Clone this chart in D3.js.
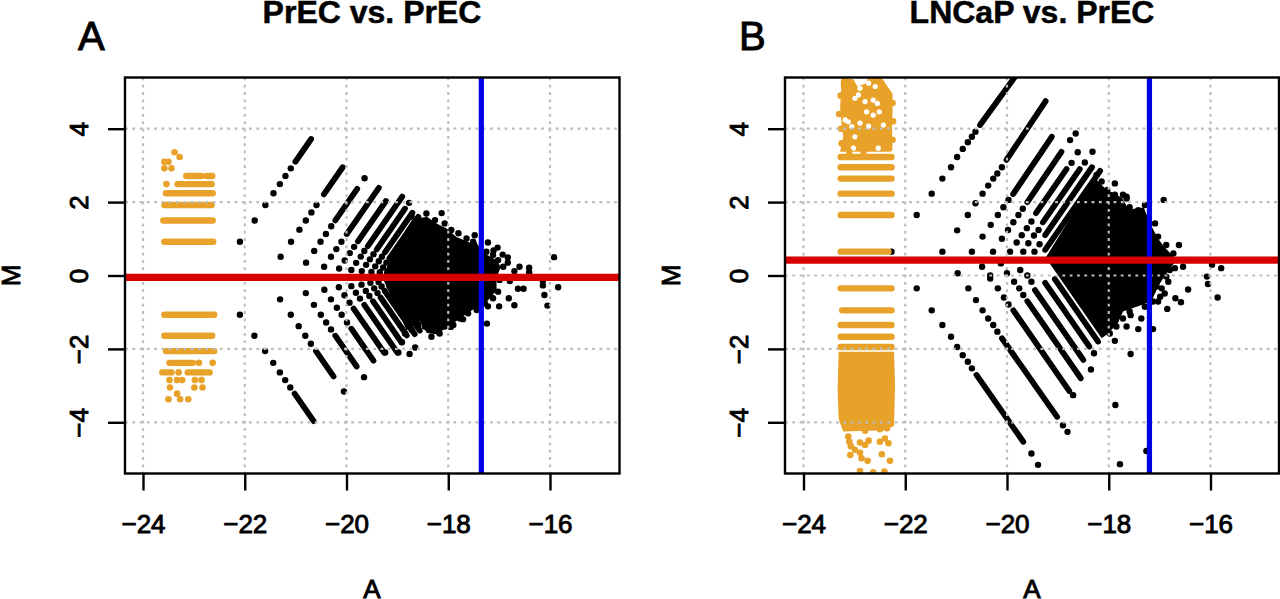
<!DOCTYPE html>
<html><head><meta charset="utf-8">
<script src="https://cdn.jsdelivr.net/npm/d3@7"></script>
<style>html,body{margin:0;padding:0;background:#fff;overflow:hidden}svg{display:block}text{font-family:"Liberation Sans",Arial,sans-serif;fill:#000}</style>
</head><body><svg id="c" width="1280" height="599"></svg>
<script>
const xTicks=[-24,-22,-20,-18,-16], yTicks=[-4,-2,0,2,4];
const titles=["PrEC vs. PrEC","LNCaP vs. PrEC"], letters=["A","B"];

// Panel A: [M, A start, A end] rows of low-count probes
const orangeRowsA=[[0.92,-23.58,-22.62],[1.5,-23.6,-22.63],[1.92,-23.58,-22.65],[2.24,-23.55,-22.63],[2.49,-23.32,-22.65],[2.71,-23.15,-22.86],[2.71,-22.76,-22.64],
[-1.07,-23.58,-22.6],[-1.64,-23.58,-22.64],[-2.06,-23.55,-22.6],[-2.38,-23.48,-23.02],[-2.64,-23.62,-23.44],[-2.64,-23.12,-22.89],[-2.64,-22.86,-22.69]];
const orangeDotsA=[[-23.38,3.36],[-23.28,3.23],[-23.58,3.10],[-23.5,3.10],[-23.58,2.92],[-23.44,2.92],[-23.54,2.49],[-22.9,-2.38],[-22.63,-2.38],[-23.3,-2.64],
[-23.48,-2.85],[-23.33,-2.85],[-23.23,-2.85],[-22.98,-2.85],[-22.85,-2.85],[-23.47,-3.05],[-22.99,-3.05],[-22.83,-3.05],[-23.33,-3.22],[-23.5,-3.37],[-23.27,-3.37],[-23.11,-3.37]];
// Panel A: dense runs along the diagonals [A0,M0,A1,M1]
const raysA=[[-21.005,3.1,-20.695,3.72],[-20.445,2.21,-20.075,2.95],[-20.22,1.5,-19.79,2.36],[-19.995,1.13,-19.365,2.39],[-19.775,.93,-19.225,2.03],[-19.58,.8,-18.905,2.15],[-19.405,.71,-18.85,1.82],[-19.245,.63,-18.705,1.71],[-19.155,.47,-18.59,1.6],[-19.085,.31,-18.49,1.5],
[-21.02,-3.22,-20.645,-3.97],[-20.6,-2.06,-20.255,-2.75],[-20.22,-1.64,-19.8,-2.48],[-19.905,-1.45,-19.47,-2.32],[-19.86,-.9,-19.26,-2.1],[-19.65,-.8,-19.0,-2.1],[-19.48,-.7,-18.92,-1.82],[-19.33,-.6,-18.815,-1.63],[-19.25,-.42,-18.66,-1.6],[-19.16,-.3,-18.56,-1.5]];
const blackDotsA=[[-22.095,.92],[-21.805,1.5],[-21.595,1.92],[-21.435,2.24],[-21.31,2.49],[-21.2,2.71],[-21.095,2.92],
[-21.295,.51],[-21.09,.92],[-20.925,1.25],[-20.8,1.5],[-20.69,1.72],[-20.59,1.92],
[-20.795,.35],[-20.635,.67],[-20.51,.92],[-20.405,1.13],[-20.3,1.34],[-19.645,2.65],
[-20.44,.24],[-20.305,.51],[-20.2,.72],[-20.1,.92],[-20.145,.19],[-20.035,.41],[-19.935,.61],[-19.85,.78],
[-19.905,.15],[-19.81,.345],[-19.72,.515],[-19.65,.667],[-19.7,.12],[-19.615,.29],[-19.54,.44],[-19.47,.58],[-18.77,1.98],
[-19.51,.1],[-19.435,.25],[-19.365,.39],[-19.305,.51],[-19.345,.09],[-19.28,.22],[-19.215,.35],[-19.2,.08],[-19.14,.2],
[-22.095,-1.07],[-21.81,-1.64],[-21.6,-2.06],[-21.44,-2.38],[-21.31,-2.64],[-21.205,-2.85],[-21.105,-3.05],
[-21.305,-.65],[-21.095,-1.07],[-20.94,-1.38],[-20.81,-1.64],[-20.7,-1.86],
[-20.8,-.48],[-20.64,-.8],[-20.505,-1.07],[-20.4,-1.28],[-20.305,-1.47],[-19.655,-2.77],[-20.05,-3.16],
[-20.435,-.39],[-20.305,-.65],[-20.19,-.88],[-20.095,-1.07],[-19.99,-1.28],[-20.15,-.32],[-20.04,-.54],[-19.94,-.74],
[-19.905,-.29],[-19.815,-.47],[-19.735,-.63],[-19.705,-.25],[-19.62,-.42],[-19.55,-.56],[-18.76,-2.14],
[-19.53,-.2],[-19.455,-.35],[-19.39,-.48],[-18.65,-1.96],[-19.37,-.18],[-19.31,-.3],
[-18.13,1.7],[-17.22,.9],[-17.03,.76],[-17.11,.68],[-16.93,.57],[-16.83,.49],[-16.83,.35],[-16.6,.24],[-16.41,.21],[-16.7,.12],[-16.41,.09],[-15.92,.5],
[-16.79,-.15],[-16.63,-.36],[-16.52,-.36],[-16.14,-.27],[-15.84,-.32],[-16.11,-.53],[-16.81,-.62],[-16.7,-.81],[-16.05,-.82],[-17,-.84],[-17.22,-.84],[-17.24,-1.31],[-17.71,-1.19],[-17.95,-1.4],[-16.14,-.14],[-18.98,-2.1],[-19.24,-2.1],[-18.91,-1.82],
[-18.72,1.6],[-18.59,1.56],[-18.43,1.69],[-18.26,1.51],[-18.07,1.42],[-17.94,1.24],[-17.8,1.15],[-17.64,1.01],[-17.48,1.1],[-17.51,.92],[-17.25,.65],[-17.12,.56],[-17.02,.42],[-16.92,.24],[-16.99,-.12],[-17.02,-.44],[-17.12,-.62],[-17.28,-.76],[-17.44,-.94],[-17.61,-1.03],[-17.77,-1.17],[-17.9,-1.35],[-18.07,-1.39],[-18.17,-1.58],[-18.33,-1.67],[-18.46,-1.39],[-18.59,-1.35],[-18.72,-1.48],[-18.85,-1.58]];
const blobA=[[-19.3,-.05],[-18.95,.98],[-18.72,1.5],[-18.42,1.6],[-18.23,1.42],[-18.03,1.28],[-17.84,1.05],[-17.58,.9],[-17.48,.98],[-17.38,.75],[-17.25,.57],[-17.03,.4],[-16.97,.22],[-17.05,-.05],[-17.05,-.41],[-17.22,-.68],[-17.32,-.8],[-17.58,-.98],[-17.9,-1.3],[-18.23,-1.6],[-18.42,-1.57],[-18.56,-1.25],[-18.82,-1.5],[-18.95,-1.08]];

// Panel B
const orangeRowsB=[[.65,-23.27,-22.33],[1.65,-23.27,-22.27],[2.23,-23.27,-22.27],[2.64,-23.27,-22.27],[2.95,-23.27,-22.27],[3.23,-23.27,-22.27],
[-.35,-23.27,-22.27],[-.95,-23.24,-22.27],[-1.35,-23.27,-22.27],[-1.67,-23.27,-22.27],[-1.95,-23.27,-22.27]];
const orangeUpperB=[[-23.26,5.06],[-23.27,5.28],[-23.18,5.37],[-23.02,5.35],[-22.94,5.15],[-22.77,5.24],[-22.74,5.37],[-22.53,5.4],[-22.43,5.33],[-22.35,5.15],[-22.25,4.96],[-22.25,4.42],[-22.26,4.06],[-22.25,3.42],[-22.29,3.37],[-23.28,3.37],[-23.22,3.78],[-23.26,4.24],[-23.28,4.6]];
const orangeLowerB=[[-23.31,-2.08],[-22.22,-2.08],[-22.2,-3],[-22.22,-4.1],[-22.4,-4.22],[-23.22,-4.25],[-23.31,-3.9],[-23.33,-3.1]];
const holesB=[[-22.79,4.74],[-22.63,4.78],[-22.55,4.69],[-22.51,4.46],[-22.63,4.37],[-22.76,4.46],[-22.92,4.92],[-22.99,4.83],[-22.89,5.1],[-22.72,5.24],[-22.59,5.15],[-23.12,4.19],[-23.18,4.24],[-23.05,4.06],[-22.89,4.15],[-22.72,4.07],[-22.99,3.78],[-22.43,4.1],[-23.02,3.47],[-22.53,3.47]];
const orangeDotsB=[[-23.12,-4.39],[-23.10,-4.53],[-23.07,-4.65],[-22.99,-4.75],[-22.89,-4.83],[-22.86,-4.98],[-23.08,-4.89],[-22.74,-5.05],[-22.46,-4.87],[-22.30,-5.05],[-22.89,-5.33],[-22.63,-5.36],[-22.41,-5.34],[-22.89,-4.55],[-22.72,-4.5],[-22.79,-4.62],[-22.50,-4.53],[-22.40,-4.44],[-22.33,-4.57],[-22.79,-4.23],[-22.50,-4.19],[-22.36,-4.16],
[-23.27,4.9],[-23.3,4.4],[-23.26,4],[-23.25,3.6],[-22.25,4.7],[-22.24,4.2],[-22.25,3.7],[-23.2,5.3],[-22.5,5.3],[-22.82,3.38],[-23.1,3.38]];
const raysB=[[-20.53,4.1,-19.84,5.42],[-20.01,3.15,-19.24,4.75],[-19.88,2.22,-19.12,3.78],[-19.6,2,-18.93,3.37],[-19.43,1.7,-18.83,2.9],[-19.295,1.45,-18.57,2.9],[-19.25,1.1,-18.33,2.95],[-19.25,.7,-18.17,2.85],
[-20.6,-2.71,-19.68,-4.53],[-20.1,-1.71,-19.015,-3.85],[-19.875,-.95,-18.775,-3.15],[-19.6,-.7,-18.55,-2.8],[-19.45,-.4,-18.5,-2.3],[-19.25,-.2,-18.38,-1.94],[-19.06,-.1,-18.21,-1.8]];
const blackDotsB=[[-22.27,.65],
[-21.775,1.65],[-21.48,2.23],[-21.27,2.64],[-21.10,2.95],[-20.98,3.23],[-20.87,3.45],[-20.77,3.63],[-20.69,3.78],[-20.62,3.92],
[-21.27,.65],[-20.98,1.23],[-20.77,1.65],[-20.62,1.97],[-20.48,2.23],[-20.37,2.45],[-20.27,2.64],[-20.19,2.78],[-20.10,2.95],
[-20.69,.65],[-20.48,1.06],[-20.32,1.38],[-20.18,1.65],[-20.07,1.86],[-19.97,2.06],
[-20.275,.65],[-20.1,1],[-19.98,1.24],[-19.875,1.45],[-19.775,1.65],[-19.69,1.82],[-18.76,3.69],[-18.65,3.87],
[-19.94,.65],[-19.81,.9],[-19.71,1.1],[-19.61,1.29],[-19.52,1.47],[-18.73,3.07],[-18.61,3.36],
[-19.68,.65],[-19.58,.88],[-19.47,1.09],[-19.38,1.24],[-18.47,3.08],[-18.32,3.37],[-19.46,.65],[-19.36,.85],
[-20.49,.24],[-20.33,.0],[-20.12,.33],[-20.0,.06],[-19.74,.15],[-19.6,.0],
[-21.775,-.35],[-21.48,-.95],[-21.27,-1.35],[-21.1,-1.67],[-20.98,-1.95],[-20.87,-2.17],[-20.77,-2.35],[-20.69,-2.53],[-19.52,-4.85],[-19.39,-5.16],
[-20.97,.06],[-20.76,-.35],[-20.61,-.67],[-20.48,-.95],[-20.37,-1.17],[-20.27,-1.35],[-20.19,-1.53],[-18.9,-4.08],[-18.81,-4.26],
[-20.33,-.08],[-20.18,-.35],[-20.06,-.6],[-19.97,-.79],[-18.70,-3.26],
[-19.86,-.17],[-19.76,-.35],[-19.68,-.53],[-19.52,-.17],[-18.35,-2.56],[-18.29,-2.12],
[-17.88,-1.78],[-17.57,-2.14],[-17.87,-3.53],[-17.78,-5.14],[-17.26,-4.78],
[-17.88,2.51],[-17.65,2.15],[-16.92,2.06],[-16.62,.83],[-16.54,.24],[-16.7,.2],[-15.97,.29],[-15.79,.2],[-16.07,-.03],[-16.05,-.23],[-15.86,-.6],[-16.44,-.38],[-16.83,-.17],[-16.96,-.35],[-16.9,-.49],[-16.69,-.62],[-16.58,-.73],[-16.85,-.91],[-17.03,-.71],[-17.13,-1.46],[-17.36,-1.17],[-17.42,-1.46],[-17.65,-1.39],[-17.57,-1.08],
[-18.24,2.74],[-18.14,2.56],[-18.03,2.33],[-17.88,2.2],[-17.72,2.2],[-17.65,2.1],[-17.59,1.86],[-17.42,1.78],[-17.29,1.92],[-17.26,1.56],[-17.09,1.42],[-17.03,1.06],[-16.87,.83],[-16.73,.6],[-16.67,.42],[-16.8,.15],[-16.87,-.03],[-17.06,-.3],[-16.99,-.58],[-17.13,-.71],[-17.29,-.85],[-17.59,-.98],[-17.72,-1.17],[-17.85,-1.39],[-17.98,-1.58]];
const blobB=[[-19.27,.42],[-18.27,2.65],[-18.06,2.36],[-17.74,2.12],[-17.61,1.8],[-17.31,1.85],[-17.2,1.45],[-17.03,1.0],[-16.91,.78],[-16.74,.53],[-16.72,.33],[-16.91,-.03],[-17.03,-.3],[-17.16,-.7],[-17.34,-.8],[-17.72,-.98],[-17.82,-1.3],[-18.03,-1.6],[-18.14,-1.71],[-19.16,.33]];

const vLines=[-17.35,-17.2], hLines=[-.05,.42];

const ORANGE="#e8a22a", RED="#d60000", BLUE="#0000e8";
const svg=d3.select("#c");
const panels=[
 {left:125,right:619.5,x0:143,x1:550,rows:orangeRowsA,oDots:orangeDotsA,oPolys:[],holes:[],rays:raysA,dots:blackDotsA,blob:blobA,v:vLines[0],h:hLines[0],mx:20,tickLabelX:88,tx:372,lx:78},
 {left:785,right:1279,x0:803.5,x1:1210.5,rows:orangeRowsB,oDots:orangeDotsB,oPolys:[orangeUpperB,orangeLowerB],holes:holesB,rays:raysB,dots:blackDotsB,blob:blobB,v:vLines[1],h:hLines[1],mx:680,tickLabelX:748,tx:1032,lx:739}
];
const boxTop=77.5,boxBottom=473.5;
const heavy=.9;
panels.forEach((p,i)=>{
 const x=d3.scaleLinear().domain([xTicks[0],xTicks[4]]).range([p.x0,p.x1]);
 const y=d3.scaleLinear().domain([4,-4]).range([128.7,422.3]);
 const id="clip"+i;
 svg.append("clipPath").attr("id",id).append("rect").attr("x",p.left).attr("y",boxTop).attr("width",p.right-p.left).attr("height",boxBottom-boxTop);
 const g=svg.append("g").attr("clip-path",`url(#${id})`);
 const line=d3.line().x(d=>x(d[0])).y(d=>y(d[1]));
 // black marks
 g.append("path").attr("d",line(p.blob)+"Z").attr("fill","#000");
 g.selectAll(".ray").data(p.rays).join("line").attr("x1",d=>x(d[0])).attr("y1",d=>y(d[1])).attr("x2",d=>x(d[2])).attr("y2",d=>y(d[3])).attr("stroke","#000").attr("stroke-width",5.8).attr("stroke-linecap","round");
 g.selectAll(".bd").data(p.dots).join("circle").attr("cx",d=>x(d[0])).attr("cy",d=>y(d[1])).attr("r",3.2).attr("fill","#000");
 // orange marks
 p.oPolys.forEach(q=>g.append("path").attr("d",line(q)+"Z").attr("fill",ORANGE));
 g.selectAll(".hole").data(p.holes).join("circle").attr("cx",d=>x(d[0])).attr("cy",d=>y(d[1])).attr("r",2.6).attr("fill","#fff");
 g.selectAll(".row").data(p.rows).join("line").attr("x1",d=>x(d[1])).attr("y1",d=>y(d[0])).attr("x2",d=>x(d[2])).attr("y2",d=>y(d[0])).attr("stroke",ORANGE).attr("stroke-width",6.4).attr("stroke-linecap","round");
 g.selectAll(".od").data(p.oDots).join("circle").attr("cx",d=>x(d[0])).attr("cy",d=>y(d[1])).attr("r",3.3).attr("fill",ORANGE);
 // grid on top of the points
 const grid=g.append("g").attr("stroke","#bdbdbd").attr("stroke-width",2.2).attr("stroke-dasharray","2.8 4.5");
 grid.selectAll(".gx").data(xTicks).join("line").attr("x1",d=>x(d)).attr("x2",d=>x(d)).attr("y1",boxTop).attr("y2",boxBottom);
 grid.selectAll(".gy").data(yTicks).join("line").attr("y1",d=>y(d)).attr("y2",d=>y(d)).attr("x1",p.left).attr("x2",p.right);
 // reference lines
 g.append("line").attr("x1",x(p.v)).attr("x2",x(p.v)).attr("y1",boxTop).attr("y2",boxBottom).attr("stroke",BLUE).attr("stroke-width",5.2);
 g.append("line").attr("x1",p.left).attr("x2",p.right).attr("y1",y(p.h)).attr("y2",y(p.h)).attr("stroke",RED).attr("stroke-width",7.4);
 // box
 svg.append("rect").attr("x",p.left).attr("y",boxTop).attr("width",p.right-p.left).attr("height",boxBottom-boxTop).attr("fill","none").attr("stroke","#000").attr("stroke-width",2.4);
 // axes
 const ax=svg.append("g").attr("transform",`translate(0,${boxBottom})`).call(d3.axisBottom(x).tickValues(xTicks).tickSize(17).tickPadding(24).tickFormat(d=>"\u2212"+Math.abs(d)));
 ax.select(".domain").remove();
 ax.selectAll("line").attr("stroke","#000").attr("stroke-width",2.4);
 ax.selectAll("text").attr("font-size",26).attr("stroke","#000").attr("stroke-width",heavy).attr("font-family","Liberation Sans").attr("fill","#000");
 const ay=svg.append("g").attr("transform",`translate(${p.left},0)`).call(d3.axisLeft(y).tickValues(yTicks).tickSize(17).tickFormat(d=>d<0?"\u2212"+Math.abs(d):d));
 ay.select(".domain").remove();
 ay.selectAll("line").attr("stroke","#000").attr("stroke-width",2.4);
 ay.selectAll("text").attr("x",null).attr("dy",null).attr("text-anchor","middle").attr("font-size",26).attr("stroke","#000").attr("stroke-width",heavy).attr("font-family","Liberation Sans").attr("fill","#000")
   .attr("transform",`translate(${p.tickLabelX-p.left},0) rotate(-90)`);
 // titles and labels
 svg.append("text").attr("x",p.tx).attr("y",23).attr("text-anchor","middle").attr("font-size",32).attr("font-weight","bold").attr("stroke","#000").attr("stroke-width",.5).text(titles[i]);
 svg.append("text").attr("x",p.lx).attr("y",50).attr("font-size",40).attr("stroke","#000").attr("stroke-width",1).text(letters[i]);
 svg.append("text").attr("x",p.tx).attr("y",598).attr("text-anchor","middle").attr("font-size",26).attr("stroke","#000").attr("stroke-width",heavy).text("A");
 svg.append("text").attr("transform",`translate(${p.mx},275.5) rotate(-90)`).attr("text-anchor","middle").attr("font-size",26).attr("stroke","#000").attr("stroke-width",heavy).text("M");
});
</script></body></html>
